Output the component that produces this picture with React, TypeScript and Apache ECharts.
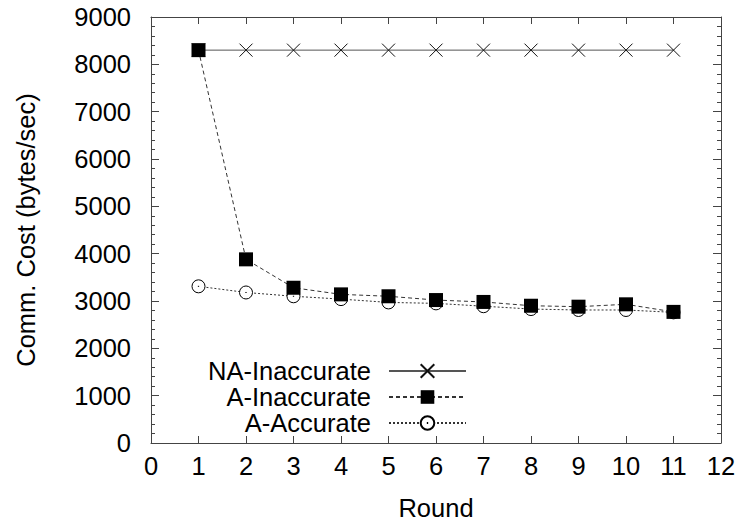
import React, { useEffect, useRef } from "react";
import * as echarts from "echarts";

const rounds = [1, 2, 3, 4, 5, 6, 7, 8, 9, 10, 11];
const naInaccurate = [8300, 8300, 8300, 8300, 8300, 8300, 8300, 8300, 8300, 8300, 8300];
const aInaccurate = [8300, 3880, 3280, 3140, 3100, 3020, 2980, 2900, 2880, 2930, 2770];
const aAccurate = [3310, 3180, 3100, 3040, 2970, 2950, 2890, 2830, 2810, 2810, 2760];
const seriesNames = ["NA-Inaccurate", "A-Inaccurate", "A-Accurate"];

const FONT = "Liberation Sans, Arial, Helvetica, sans-serif";
const FS = 25.5;
const AXIS_COLOR = "#444";

const crossPath = "path://M0,0L10,10M10,0L0,10";
const circlePath = "path://M0,6A6,6 0 1,1 12,6A6,6 0 1,1 0,6Z M5.4,6L6.6,6";

export default function App() {
  const ref = useRef<HTMLDivElement>(null);
  useEffect(() => {
    if (!ref.current) return;
    const chart = echarts.init(ref.current, undefined, { renderer: "svg" });
    const pair = (ys: number[]) => rounds.map((x, i) => [x, ys[i]]);
    const baseX = {
      type: "value" as const,
      min: 0,
      max: 12,
      interval: 1,
      splitLine: { show: false },
      axisLine: { show: true, onZero: false, lineStyle: { color: AXIS_COLOR, width: 1 } },
      axisTick: { show: true, inside: true, length: 7, lineStyle: { color: AXIS_COLOR } },
    };
    const baseY = {
      type: "value" as const,
      min: 0,
      max: 9000,
      interval: 1000,
      splitLine: { show: false },
      axisLine: { show: true, onZero: false, lineStyle: { color: AXIS_COLOR, width: 1 } },
      axisTick: { show: true, inside: true, length: 8, lineStyle: { color: AXIS_COLOR } },
      minorTick: { show: true, splitNumber: 5, length: 4, lineStyle: { color: AXIS_COLOR } },
    };
    const legendCommon = {
      right: 277,
      padding: 0,
      itemWidth: 77,
      itemHeight: 17,
      itemGap: 0,
      textStyle: {
        fontFamily: FONT,
        fontSize: FS,
        lineHeight: 23,
        color: "#000",
        padding: [0, 13, 0, 0],
      },
      align: "right" as const,
      selectedMode: false,
    };
    chart.setOption({
      animation: false,
      backgroundColor: "#fff",
      grid: { left: 151, right: 23, top: 17, bottom: 85, containLabel: false },
      xAxis: [
        {
          ...baseX,
          position: "bottom",
          name: "Round",
          nameLocation: "middle",
          nameGap: 52,
          nameTextStyle: { fontFamily: FONT, fontSize: FS, color: "#000" },
          axisLabel: { show: true, margin: 10, fontFamily: FONT, fontSize: FS, color: "#000" },
        },
        { ...baseX, position: "top", axisLabel: { show: false } },
      ],
      yAxis: [
        {
          ...baseY,
          position: "left",
          name: "Comm. Cost (bytes/sec)",
          nameLocation: "middle",
          nameGap: 112,
          nameTextStyle: { fontFamily: FONT, fontSize: FS, color: "#000" },
          axisLabel: {
            show: true,
            margin: 20,
            fontFamily: FONT,
            fontSize: FS,
            color: "#000",
            formatter: (v: number) => String(v),
          },
        },
        { ...baseY, position: "right", axisLabel: { show: false } },
      ],
      legend: [
        { ...legendCommon, top: 358, data: [seriesNames[0]] },
        { ...legendCommon, top: 384, data: [seriesNames[1]] },
        { ...legendCommon, top: 410, data: [seriesNames[2]] },
      ],
      series: [
        {
          name: seriesNames[0],
          type: "line",
          data: pair(naInaccurate),
          symbol: crossPath,
          symbolSize: 13,
          z: 2,
          lineStyle: { color: "#555", width: 1, type: "solid" },
          itemStyle: { color: "none", borderColor: "#111", borderWidth: 1 },
        },
        {
          name: seriesNames[1],
          type: "line",
          data: pair(aInaccurate),
          symbol: "rect",
          symbolSize: 14,
          z: 4,
          lineStyle: { color: "#333", width: 1, type: [4, 3] },
          itemStyle: { color: "#000", borderColor: "#000", borderWidth: 0 },
        },
        {
          name: seriesNames[2],
          type: "line",
          data: pair(aAccurate),
          symbol: circlePath,
          symbolSize: 13,
          z: 3,
          lineStyle: { color: "#333", width: 1, type: [2, 2] },
          itemStyle: { color: "#fff", borderColor: "#000", borderWidth: 1 },
        },
      ],
    });
    return () => chart.dispose();
  }, []);
  return <div ref={ref} style={{ width: 744, height: 528, position: "absolute", left: 0, top: 0 }} />;
}
